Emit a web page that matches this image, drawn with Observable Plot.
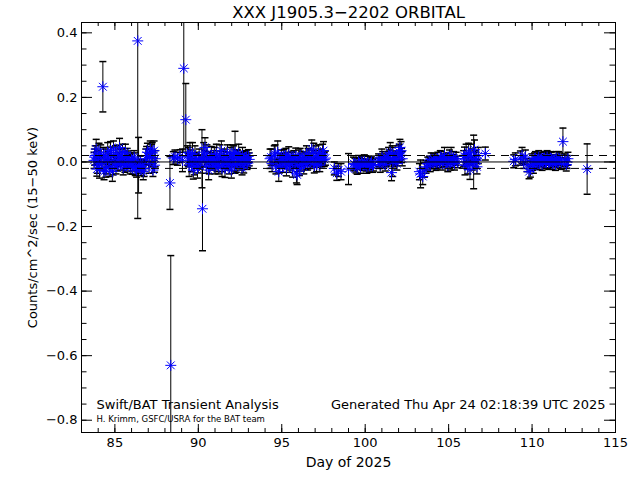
<!DOCTYPE html>
<html><head><meta charset="utf-8">
<script src="https://cdn.jsdelivr.net/npm/d3@7"></script>
<script src="https://cdn.jsdelivr.net/npm/@observablehq/plot@0.6"></script>
<style>body{margin:0;background:#fff} #chart svg{display:block}</style>
</head><body><div id="chart"></div>
<script>
// ---- data (day of 2025, rate, 1-sigma error) ----
const daysA = [83.75,83.82,83.88,83.95,84.02,84.08,84.15,84.22,84.28,84.35,84.42,84.50,84.57,84.63,84.70,84.78,84.85,84.92,85.00,85.07,85.13,85.20,85.28,85.35,85.42,85.50,85.57,85.63,85.70,85.78,85.85,85.92,86.00,86.08,86.15,86.22,86.37,86.42,86.50,86.58,86.65,86.75,86.85,86.95,87.05,87.12,87.20,87.28,87.35,87.42];
const rateA = [0.005,0.020,0.040,-0.010,0.012,-0.020,0.025,0.000,0.233,-0.030,0.010,-0.015,0.030,0.005,-0.020,0.018,-0.030,0.040,0.000,-0.012,0.022,0.008,0.045,-0.005,0.015,-0.018,0.010,0.030,-0.008,0.012,0.000,-0.015,0.008,-0.010,0.015,-0.020,0.375,-0.010,-0.015,-0.022,-0.010,-0.020,0.010,0.030,-0.005,0.040,0.020,-0.025,0.035,0.010];
const errA  = [0.025,0.030,0.030,0.025,0.022,0.030,0.028,0.020,0.078,0.025,0.030,0.022,0.030,0.020,0.025,0.028,0.030,0.025,0.020,0.025,0.030,0.022,0.028,0.020,0.025,0.022,0.020,0.025,0.020,0.022,0.018,0.022,0.020,0.018,0.020,0.022,0.550,0.086,0.020,0.020,0.018,0.025,0.030,0.028,0.030,0.025,0.035,0.020,0.030,0.025];
const daysA2 = [83.79,83.92,84.05,84.18,84.32,84.46,84.60,84.74,84.88,85.03,85.17,85.31,85.46,85.60,85.74,85.88,86.04,86.19,86.30,86.54,86.70,86.90,87.08,87.24,87.38];
const rateA2 = [0.015,-0.022,0.030,-0.005,0.020,-0.025,0.012,0.035,-0.018,0.025,-0.008,0.018,0.030,-0.012,0.020,0.005,-0.018,0.010,-0.025,0.000,-0.030,0.020,0.015,0.030,-0.010];
const errA2  = [0.025,0.022,0.028,0.020,0.025,0.022,0.020,0.028,0.022,0.025,0.020,0.022,0.025,0.020,0.022,0.018,0.020,0.018,0.022,0.018,0.025,0.028,0.025,0.030,0.022];

const daysB = [88.30,88.35,88.50,88.60,88.75,88.90,89.05,89.13,89.25,89.35,89.45,89.55,89.65,89.75,89.85,89.95,90.05,90.12,90.22,90.25,90.32,90.40,90.48,90.55,90.62,90.70,90.78,90.85,90.92,91.00,91.08,91.15,91.22,91.30,91.38,91.45,91.52,91.60,91.68,91.75,91.82,91.90,91.98,92.05,92.12,92.20,92.28,92.35,92.42,92.50,92.58,92.65,92.72,92.80,92.88,92.95,93.05];
const rateB = [-0.065,-0.630,0.012,0.015,0.010,0.018,0.005,0.290,0.131,0.020,-0.010,0.012,0.025,-0.015,0.005,-0.020,0.015,0.000,0.010,-0.145,0.030,0.045,-0.010,0.012,-0.025,0.005,0.020,-0.005,0.010,-0.015,0.025,0.000,-0.012,0.018,0.035,-0.008,0.008,-0.020,0.010,0.028,-0.005,0.015,-0.025,0.005,0.022,0.030,-0.010,0.012,0.025,-0.005,0.010,0.020,-0.012,0.005,0.015,0.000,0.008];
const errB  = [0.082,0.340,0.020,0.022,0.020,0.020,0.035,0.260,0.112,0.030,0.035,0.025,0.035,0.025,0.020,0.030,0.025,0.022,0.090,0.130,0.030,0.030,0.025,0.020,0.030,0.022,0.028,0.020,0.025,0.022,0.030,0.020,0.025,0.035,0.030,0.022,0.025,0.028,0.020,0.025,0.020,0.030,0.025,0.020,0.028,0.065,0.022,0.025,0.030,0.020,0.020,0.025,0.022,0.020,0.020,0.018,0.020];
const daysB2 = [89.40,89.60,89.80,90.00,90.36,90.52,90.66,90.82,90.96,91.12,91.26,91.42,91.56,91.72,91.86,92.02,92.16,92.32,92.46,92.62,92.76,92.92,93.00,89.50,89.70,89.90];
const rateB2 = [0.015,-0.005,0.020,-0.012,0.010,0.025,-0.015,0.008,0.020,-0.010,0.012,-0.020,0.018,0.000,-0.015,0.028,-0.008,0.015,0.005,-0.018,0.012,-0.005,0.018,0.030,-0.025,0.008];
const errB2  = [0.030,0.025,0.030,0.022,0.025,0.028,0.022,0.020,0.025,0.020,0.022,0.025,0.022,0.020,0.022,0.025,0.020,0.022,0.020,0.022,0.020,0.018,0.020,0.030,0.028,0.022];

const daysC = [94.30,94.42,94.55,94.65,94.76,94.82,94.90,94.98,95.05,95.12,95.20,95.28,95.35,95.42,95.50,95.58,95.65,95.72,95.80,95.88,95.95,96.02,96.10,96.18,96.25,96.32,96.40,96.48,96.55,96.62,96.70,96.80,96.88,96.95,97.05,97.12,97.20,97.28,97.35,97.45,97.55];
const rateC = [0.010,-0.005,0.020,-0.015,0.030,-0.030,0.005,0.012,-0.010,0.018,0.000,-0.018,0.010,0.022,-0.005,0.008,-0.022,0.015,0.000,-0.035,-0.010,0.012,0.020,-0.008,0.005,-0.015,0.010,0.025,-0.005,0.015,0.000,0.040,0.010,-0.012,0.020,0.005,0.028,-0.010,0.015,0.025,0.008];
const errC  = [0.030,0.025,0.030,0.022,0.035,0.030,0.020,0.025,0.022,0.020,0.020,0.025,0.020,0.025,0.020,0.022,0.025,0.020,0.018,0.030,0.020,0.025,0.022,0.020,0.020,0.022,0.020,0.025,0.020,0.022,0.020,0.028,0.025,0.022,0.030,0.022,0.025,0.020,0.025,0.030,0.022];
const daysC2 = [94.36,94.60,94.86,95.08,95.24,95.46,95.62,95.84,96.06,96.22,96.44,96.58,96.75,96.92,97.08,97.24,97.40,97.50,97.62,95.92];
const rateC2 = [0.015,0.025,-0.012,0.005,0.020,-0.012,0.010,0.018,-0.020,0.012,-0.005,0.020,0.008,0.030,-0.008,0.015,0.005,0.035,0.012,-0.040];
const errC2  = [0.025,0.028,0.022,0.020,0.022,0.020,0.020,0.025,0.022,0.020,0.018,0.022,0.020,0.028,0.022,0.020,0.020,0.028,0.022,0.030];

const daysD = [98.15,98.30,98.40,98.55,99.00,99.30,99.45,99.60,99.72,99.85,99.95,100.05,100.15,100.25,100.38,100.50,100.80,100.90,101.00,101.10,101.20,101.30,101.40,101.50,101.58,101.65,101.72,101.80,101.90,102.00,102.08,102.15,102.22];
const rateD = [-0.020,-0.035,-0.025,-0.030,-0.022,-0.005,-0.012,0.000,-0.015,-0.008,0.002,-0.010,-0.003,-0.012,0.000,-0.008,0.005,-0.010,0.015,0.000,-0.008,0.010,0.020,0.030,-0.033,0.000,0.005,0.012,-0.005,0.025,0.045,0.035,0.010];
const errD  = [0.020,0.022,0.020,0.025,0.048,0.020,0.022,0.020,0.020,0.018,0.020,0.018,0.020,0.020,0.018,0.020,0.020,0.022,0.025,0.020,0.020,0.022,0.025,0.030,0.025,0.045,0.020,0.022,0.020,0.025,0.025,0.028,0.022];
const daysD2 = [99.38,99.52,99.66,99.80,100.10,100.32,100.44,100.85,101.05,101.25,101.45,101.62,101.85,102.04,102.18];
const rateD2 = [-0.008,-0.018,-0.005,0.000,-0.015,-0.005,-0.012,0.000,0.010,0.005,0.015,0.025,0.008,0.030,0.020];
const errD2  = [0.020,0.020,0.018,0.018,0.020,0.018,0.020,0.020,0.022,0.020,0.022,0.025,0.020,0.025,0.022];

const daysE = [103.25,103.32,103.45,103.55,103.65,103.75,103.85,103.95,104.05,104.15,104.25,104.35,104.45,104.55,104.65,104.75,104.85,104.95,105.05,105.15,105.25,105.35,105.45,105.55,105.90,105.98,106.05,106.12,106.20,106.28,106.35,106.42,106.50,106.55,106.62,106.70,106.78,107.20];
const rateE = [-0.030,-0.037,-0.045,-0.025,-0.015,-0.005,0.000,0.008,-0.003,0.005,-0.008,0.010,0.000,0.012,-0.005,0.020,0.005,-0.010,0.015,0.020,0.003,-0.005,0.010,0.000,0.010,-0.010,0.025,0.000,0.030,-0.024,0.015,-0.005,0.000,0.038,0.010,-0.015,0.020,0.026];
const errE  = [0.025,0.043,0.025,0.022,0.020,0.020,0.018,0.020,0.018,0.020,0.018,0.020,0.018,0.020,0.020,0.025,0.020,0.020,0.022,0.025,0.020,0.020,0.020,0.018,0.025,0.030,0.030,0.022,0.028,0.030,0.025,0.020,0.083,0.030,0.025,0.022,0.025,0.020];
const daysE2 = [103.90,104.10,104.30,104.50,104.70,104.90,105.10,105.30,105.95,106.15,106.32,106.65];
const rateE2 = [-0.010,0.008,-0.004,0.015,0.005,0.010,-0.005,0.012,0.018,-0.012,0.025,0.005];
const errE2  = [0.020,0.018,0.018,0.020,0.020,0.018,0.020,0.020,0.028,0.025,0.030,0.025];

const daysF = [108.90,109.00,109.30,109.40,109.50,109.60,109.70,109.82,109.90,110.00,110.08,110.15,110.25,110.35,110.45,110.55,110.65,110.75,110.85,110.95,111.05,111.15,111.25,111.35,111.45,111.55,111.65,111.75,111.85,111.95,112.05,112.15,113.30];
const rateF = [0.002,0.008,0.012,0.020,0.000,0.015,-0.010,-0.030,-0.022,0.005,-0.015,0.010,0.000,0.008,-0.005,0.010,0.003,0.012,-0.003,0.008,0.000,0.010,-0.005,0.005,0.012,0.000,0.008,-0.005,0.063,0.005,-0.008,0.010,-0.022];
const errF  = [0.020,0.020,0.022,0.025,0.020,0.022,0.020,0.022,0.025,0.020,0.020,0.018,0.018,0.018,0.018,0.020,0.018,0.020,0.018,0.018,0.018,0.020,0.018,0.018,0.020,0.018,0.020,0.018,0.042,0.020,0.020,0.020,0.078];
const daysF2 = [110.03,110.20,110.30,110.40,110.50,110.60,110.70,110.80,110.90,111.00,111.10,111.20,111.40,111.60,112.10];
const rateF2 = [-0.008,0.012,-0.005,0.015,0.005,-0.008,0.010,0.000,0.015,-0.005,0.012,0.003,-0.008,0.012,0.000];
const errF2  = [0.018,0.020,0.018,0.020,0.018,0.018,0.020,0.018,0.020,0.018,0.020,0.018,0.018,0.020,0.020];

const bandLevels = [-0.02, 0.02];
const xMajor = [85, 90, 95, 100, 105, 110, 115];
const xLabels = ["85", "90", "95", "100", "105", "110", "115"];
const yMajor = [0.4, 0.2, 0.0, -0.2, -0.4, -0.6, -0.8];
const yLabels = ["0.4", "0.2", "0.0", "\u22120.2", "\u22120.4", "\u22120.6", "\u22120.8"];

const titleText = "XXX J1905.3\u22122202 ORBITAL";
const xTitle = "Day of 2025";
const yTitle = "Counts/cm^2/sec (15\u221250 keV)";
const noteLeft = "Swift/BAT Transient Analysis";
const noteRight = "Generated Thu Apr 24 02:18:39 UTC 2025";
const credit = "H. Krimm, GSFC/USRA for the BAT team";

// ---- build table ----
const segs = [[daysA, rateA, errA], [daysA2, rateA2, errA2], [daysB, rateB, errB], [daysB2, rateB2, errB2],
  [daysC, rateC, errC], [daysC2, rateC2, errC2], [daysD, rateD, errD], [daysD2, rateD2, errD2],
  [daysE, rateE, errE], [daysE2, rateE2, errE2], [daysF, rateF, errF], [daysF2, rateF2, errF2]];
const data = [];
for (const [ds, rs, es] of segs) ds.forEach((d, i) => data.push({day: d, rate: rs[i], err: es[i]}));
data.sort((a, b) => a.day - b.day);

const W = 640, H = 480, mL = 81, mR = 25, mT = 22, mB = 48;
const plotH = H - mT - mB, plotW = W - mL - mR;
const xMinor = d3.range(83, 115.5, 1);
const yMinor = d3.range(-0.8, 0.41, 0.05).map(v => Math.round(v * 100) / 100);

const star = {draw(ctx, size) {
  const r = Math.sqrt(size / Math.PI), d = r * Math.SQRT1_2;
  ctx.moveTo(-r, 0); ctx.lineTo(r, 0);
  ctx.moveTo(0, -r); ctx.lineTo(0, r);
  ctx.moveTo(-d, -d); ctx.lineTo(d, d);
  ctx.moveTo(-d, d); ctx.lineTo(d, -d);
}};
const cap = {draw(ctx, size) {
  const r = Math.sqrt(size / Math.PI);
  ctx.moveTo(-r, 0); ctx.lineTo(r, 0);
}};

const font = "DejaVu Sans";
const T = {fill: "black", lineAnchor: "middle"};
const chart = Plot.plot({
  width: W, height: H, marginLeft: mL, marginRight: mR, marginTop: mT, marginBottom: mB,
  style: {fontFamily: font, background: "white", color: "black", overflow: "visible"},
  x: {domain: [83, 115], axis: null},
  y: {domain: [-0.838, 0.432], axis: null},
  marks: [
    Plot.ruleX(data, {x: "day", y1: d => d.rate - d.err, y2: d => d.rate + d.err, stroke: "black", strokeWidth: 1, clip: true}),
    Plot.dot(data, {x: "day", y: d => d.rate + d.err, symbol: cap, r: 3.5, stroke: "black", clip: true}),
    Plot.dot(data, {x: "day", y: d => d.rate - d.err, symbol: cap, r: 3.5, stroke: "black", clip: true}),
    Plot.dot(data, {x: "day", y: "rate", symbol: star, r: 5.5, stroke: "blue", strokeWidth: 1, fill: "none", clip: true}),
    Plot.ruleY([0], {stroke: "black"}),
    Plot.ruleY(bandLevels, {stroke: "black", strokeDasharray: "8,6"}),
    Plot.frame({stroke: "black"}),
    // x ticks (inward, bottom and top)
    Plot.tickX(xMinor, {x: d => d, insetTop: plotH - 4, stroke: "black"}),
    Plot.tickX(xMinor, {x: d => d, insetBottom: plotH - 4, stroke: "black"}),
    Plot.tickX(xMajor, {x: d => d, insetTop: plotH - 8, stroke: "black"}),
    Plot.tickX(xMajor, {x: d => d, insetBottom: plotH - 8, stroke: "black"}),
    // y ticks (inward, left and right)
    Plot.tickY(yMinor, {y: d => d, insetRight: plotW - 5.5, stroke: "black"}),
    Plot.tickY(yMinor, {y: d => d, insetLeft: plotW - 5.5, stroke: "black"}),
    Plot.tickY(yMajor, {y: d => d, insetRight: plotW - 11, stroke: "black"}),
    Plot.tickY(yMajor, {y: d => d, insetLeft: plotW - 11, stroke: "black"}),
    // tick labels
    Plot.text(xMajor, {...T, x: d => d, frameAnchor: "bottom", dy: 10, text: (d, i) => xLabels[i], fontSize: 13}),
    Plot.text(yMajor, {...T, y: d => d, frameAnchor: "left", dx: -4, textAnchor: "end", text: (d, i) => yLabels[i], fontSize: 13}),
    // titles
    Plot.text([titleText], {...T, frameAnchor: "top", dy: -10, fontSize: 16.5}),
    Plot.text([xTitle], {...T, frameAnchor: "bottom", dy: 30, fontSize: 14}),
    Plot.text([yTitle], {...T, frameAnchor: "left", dx: -49, rotate: -90, textAnchor: "middle", fontSize: 13}),
    // annotations
    Plot.text([noteLeft], {...T, frameAnchor: "bottom-left", dx: 15, dy: -28, textAnchor: "start", fontSize: 13}),
    Plot.text([noteRight], {...T, frameAnchor: "bottom-right", dx: -10, dy: -28, textAnchor: "end", fontSize: 13}),
    Plot.text([credit], {...T, frameAnchor: "bottom-left", dx: 15, dy: -13, textAnchor: "start", fontSize: 8.5})
  ]
});
document.getElementById("chart").appendChild(chart);
</script>
</body></html>
